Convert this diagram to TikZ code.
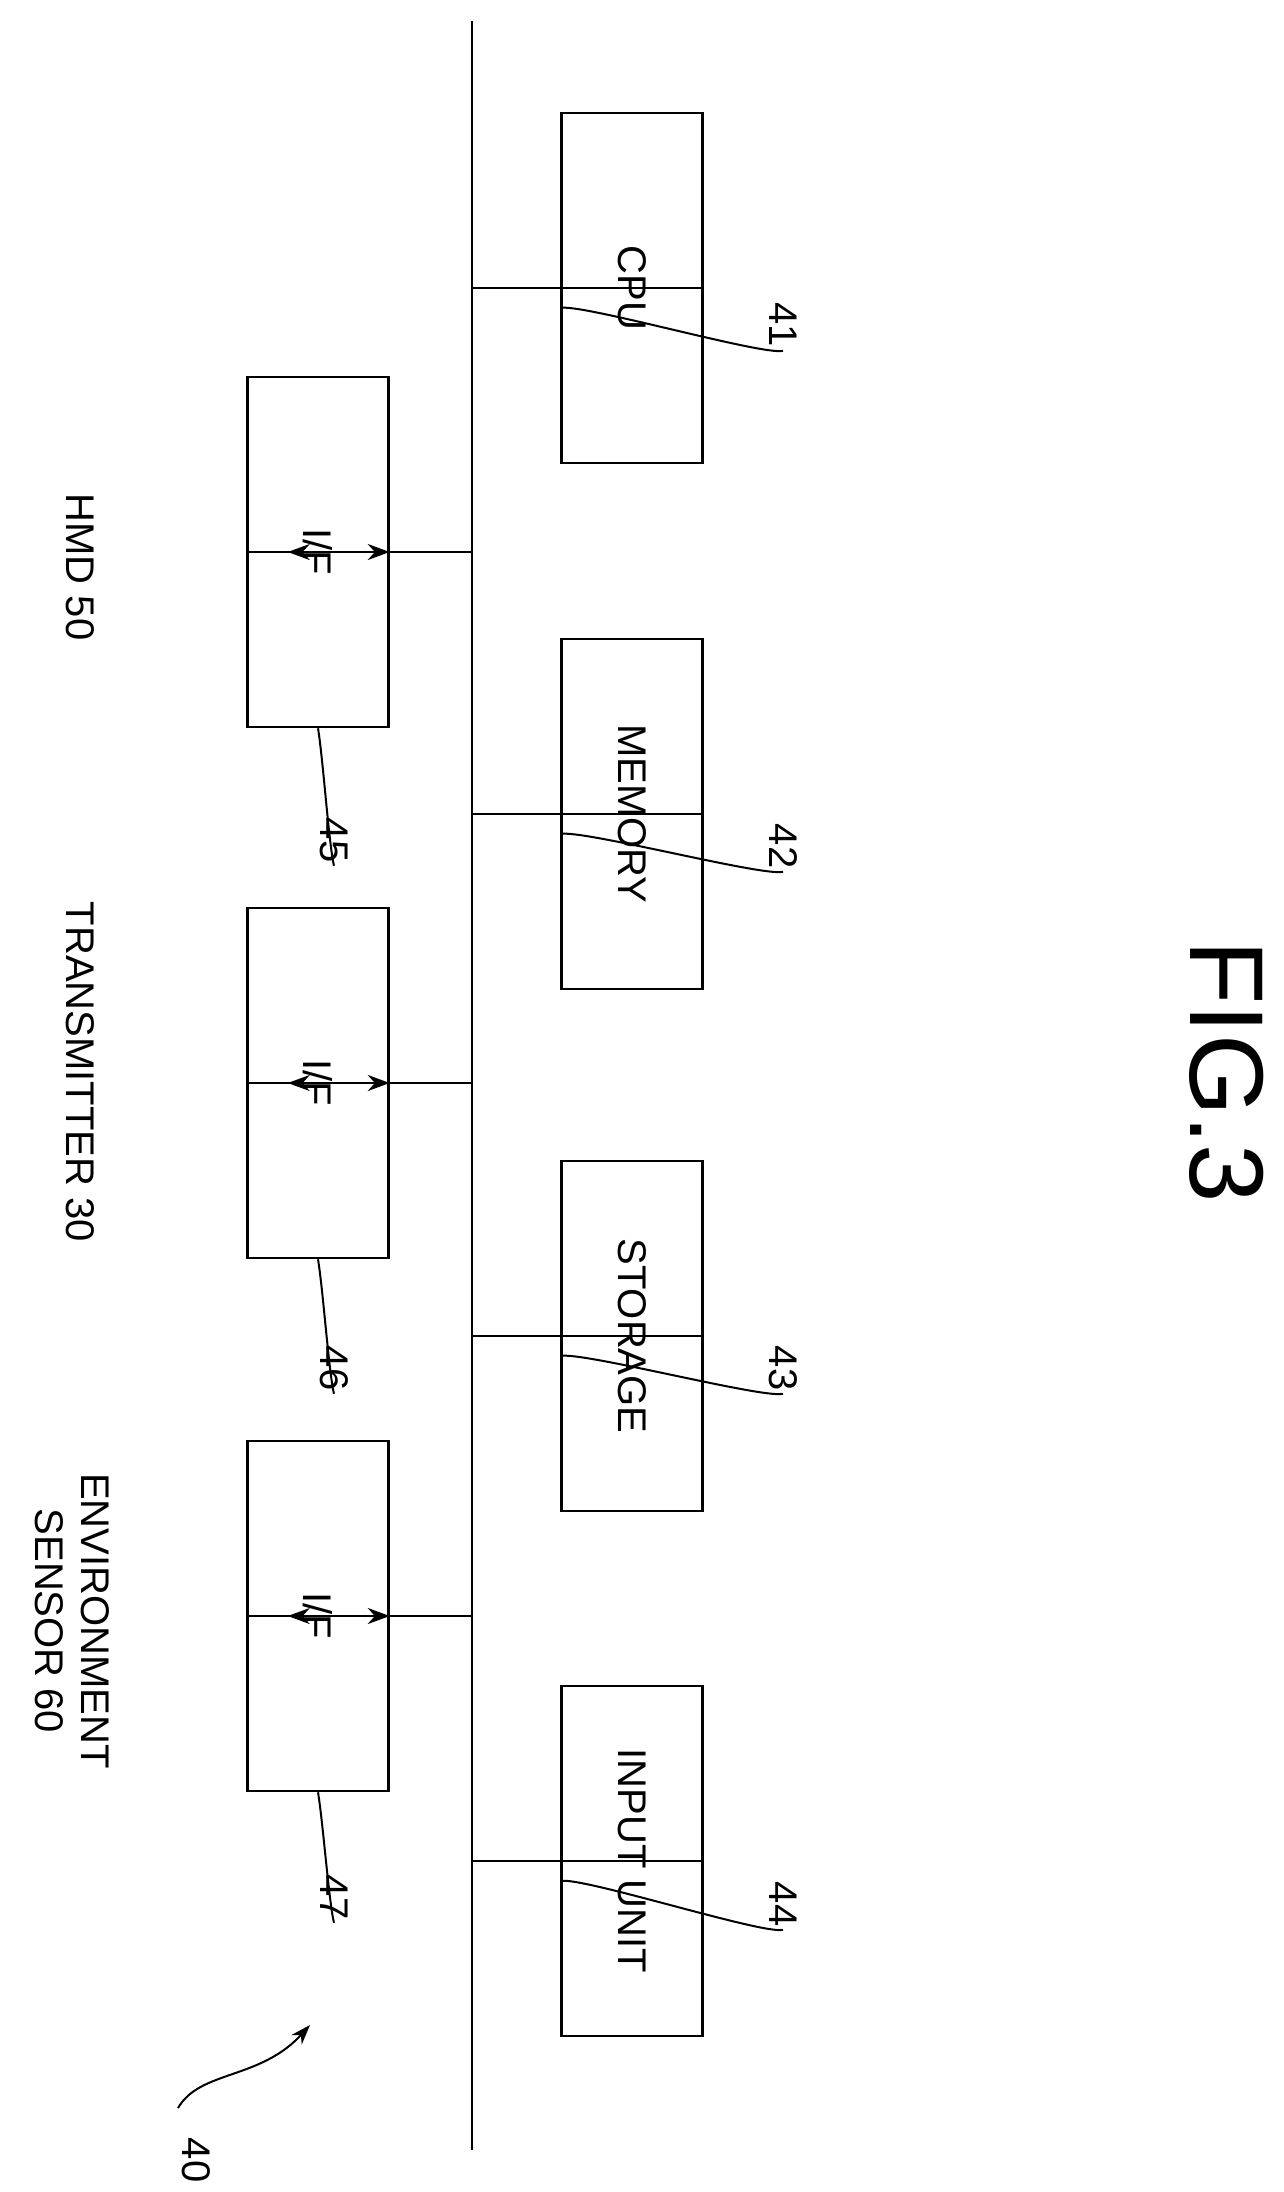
\documentclass[tikz,border=0pt]{standalone}
\usepackage{fontspec}
\setmainfont{Liberation Sans}
\usetikzlibrary{arrows.meta}

\tikzset{
  unit/.style={draw, line width=2.5pt, minimum width=350pt, minimum height=141pt, rotate=-90, font=\fontsize{40}{44}\selectfont},
  lbl/.style={rotate=-90, font=\fontsize{40}{46}\selectfont, align=center},
  lead/.style={line width=2pt},
  wire/.style={line width=2.5pt}
}

\begin{document}
\begin{tikzpicture}[x=1pt, y=-1pt]
\useasboundingbox (0,0) rectangle (1283,2192);

% bus
\coordinate (bt) at (472,21);
\coordinate (bb) at (472,2150);
\draw[wire] (bt) -- (bb);

% right column
\node[unit] (cpu) at (632,288) {CPU};
\node[unit] (mem) at (632,814) {MEMORY};
\node[unit] (sto) at (632,1336) {STORAGE};
\node[unit] (inp) at (632,1861) {INPUT UNIT};
\foreach \n in {cpu,mem,sto,inp}
  \draw[wire] (\n.north) -- (472,0 |- \n.north) ;

% left column
\node[unit] (if1) at (318,552) {I/F};
\node[unit] (if2) at (318,1083) {I/F};
\node[unit] (if3) at (318,1616) {I/F};
\foreach \n in {if1,if2,if3} {
  \draw[wire] (\n.south) -- (472,0 |- \n.south);
  \draw[wire, {Stealth[length=22pt,width=16pt]}-{Stealth[length=22pt,width=16pt]}] (\n.north) -- ++(-102,0);
}

% outside
\node[lbl] (hmd) at (80,567) {HMD 50};
\node[lbl] (tra) at (80,1072) {TRANSMITTER 30};
\node[lbl] (env) at (72,1621) {ENVIRONMENT\\SENSOR 60};

% reference numbers
\node[lbl] (n41) at (783,325) {41};
\node[lbl] (n42) at (783,846) {42};
\node[lbl] (n43) at (783,1368) {43};
\node[lbl] (n44) at (783,1904) {44};
\node[lbl] (n45) at (334,840) {45};
\node[lbl] (n46) at (334,1368) {46};
\node[lbl] (n47) at (334,1897) {47};
\node[lbl] (n40) at (196,2160) {40};
\foreach \b/\n in {cpu/n41,mem/n42,sto/n43,inp/n44}
  \draw[lead] (\b.south) ++(0,20) .. controls +(20,-5) and +(-20,5) .. (\n.east);
\foreach \b/\n in {if1/n45,if2/n46,if3/n47}
  \draw[lead] (\b.east) .. controls +(5,30) and +(-5,-20) .. (\n.east);
\draw[lead, -{Stealth[length=20pt,width=14pt]}] (178,2108) .. controls (200,2070) and (260,2080) .. (310,2025);

\node[rotate=-90, font=\fontsize{105}{110}\selectfont] (fig) at (1227,1072) {FIG.3};
\end{tikzpicture}
\end{document}
